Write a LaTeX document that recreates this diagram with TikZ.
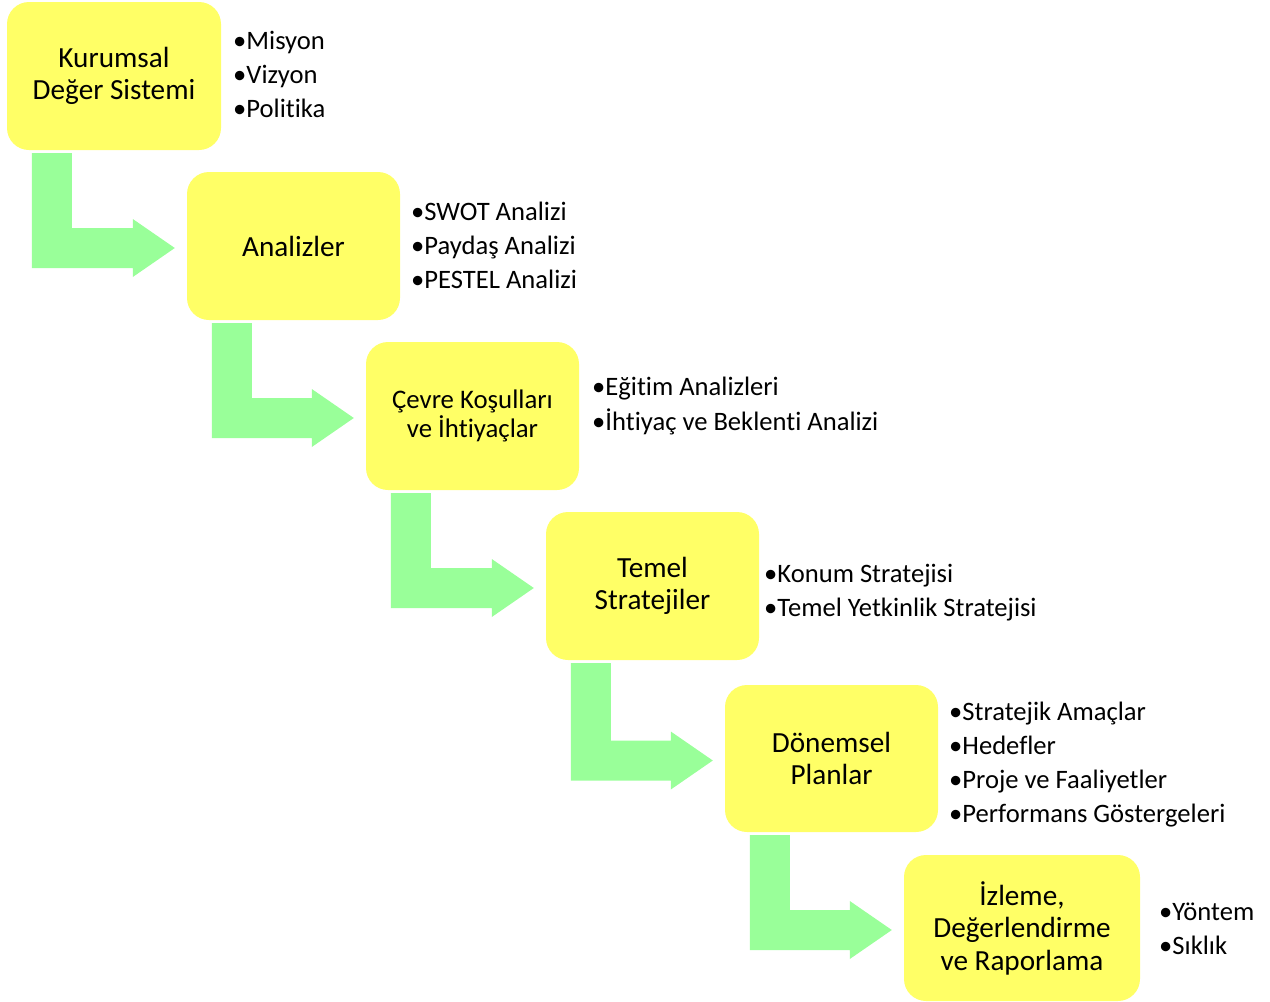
\documentclass[tikz,border=0pt]{standalone}
\usepackage{fontspec}
\setmainfont{Carlito}[Ligatures={NoCommon}, RawFeature={-liga;-clig}]
\usetikzlibrary{calc}
\definecolor{boxyellow}{HTML}{FFFF66}
\definecolor{arrowgreen}{HTML}{99FF99}
\tikzset{
  stagebox/.style={fill=boxyellow, draw=none, rounded corners=22pt, inner sep=0pt,
    align=center, text=black, font=\fontsize{29.2}{32.5}\selectfont},
  smallstage/.style={stagebox, font=\fontsize{26.8}{29.5}\selectfont},
  bulletitem/.style={anchor=base west, inner sep=0pt, text=black, font=\fontsize{26.6}{30}\selectfont},
  bentarrow/.style={fill=arrowgreen, draw=none}
}
\newcommand{\bentconn}[2]{%
  \fill[bentarrow] let \p1=(#1.south west), \p2=(#2.west) in
    (\x1+25pt,\y1-3pt) -- (\x1+65pt,\y1-3pt) -- (\x1+65pt,\y2+18pt) --
    (\x2-54pt,\y2+18pt) -- (\x2-54pt,\y2+27pt) -- (\x2-12pt,\y2-2pt) --
    (\x2-54pt,\y2-31pt) -- (\x2-54pt,\y2-22pt) -- (\x1+25pt,\y2-22pt) -- cycle;}
\begin{document}
\begin{tikzpicture}[x=1pt,y=-1pt]
\useasboundingbox (0,0) rectangle (1270,1002);
% stage boxes
\node[stagebox, minimum width=214pt, minimum height=148pt] (b1) at (114,76) {Kurumsal\\Değer Sistemi};
\node[stagebox, minimum width=213pt, minimum height=148pt] (b2) at (293.5,246) {Analizler};
\node[smallstage, minimum width=213pt, minimum height=148pt] (b3) at (472.5,416) {Çevre Koşulları\\ve İhtiyaçlar};
\node[stagebox, minimum width=213pt, minimum height=148pt] (b4) at (652.5,586) {Temel\\Stratejiler};
\node[stagebox, minimum width=213pt, minimum height=147pt] (b5) at (831.5,758.5) {Dönemsel\\Planlar};
\node[stagebox, minimum width=236pt, minimum height=146pt] (b6) at (1022,928) {İzleme,\\Değerlendirme\\ve Raporlama};
% bent arrows
\bentconn{b1}{b2}
\bentconn{b2}{b3}
\bentconn{b3}{b4}
\bentconn{b4}{b5}
\bentconn{b5}{b6}
% bullet lists
\node[bulletitem] (l1a) at (233,49) {•Misyon};
\node[bulletitem] (l1b) at (233,83) {•Vizyon};
\node[bulletitem] (l1c) at (233,117) {•Politika};
\node[bulletitem] (l2a) at (411,220) {•SWOT Analizi};
\node[bulletitem] (l2b) at (411,254) {•Paydaş Analizi};
\node[bulletitem] (l2c) at (411,288) {•PESTEL Analizi};
\node[bulletitem] (l3a) at (592,395) {•Eğitim Analizleri};
\node[bulletitem] (l3b) at (592,430) {•İhtiyaç ve Beklenti Analizi};
\node[bulletitem] (l4a) at (764,582) {•Konum Stratejisi};
\node[bulletitem] (l4b) at (764,616) {•Temel Yetkinlik Stratejisi};
\node[bulletitem] (l5a) at (949,720) {•Stratejik Amaçlar};
\node[bulletitem] (l5b) at (949,754) {•Hedefler};
\node[bulletitem] (l5c) at (949,788) {•Proje ve Faaliyetler};
\node[bulletitem] (l5d) at (949,822) {•Performans Göstergeleri};
\node[bulletitem] (l6a) at (1159,920) {•Yöntem};
\node[bulletitem] (l6b) at (1159,954) {•Sıklık};
\end{tikzpicture}
\end{document}
